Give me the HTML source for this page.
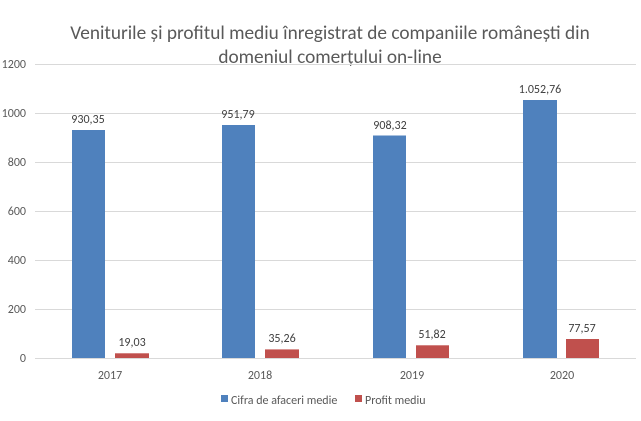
<!DOCTYPE html>
<html><head><meta charset="utf-8"><style>body{margin:0;background:#fff}</style></head><body>
<svg width="641" height="416" xmlns="http://www.w3.org/2000/svg" font-family="Calibri, 'Liberation Sans', sans-serif">
<rect width="641" height="416" fill="#fff"/>
<text x="330" y="39" text-anchor="middle" font-size="19.3" fill="#595959">Veniturile și profitul mediu înregistrat de companiile românești din</text>
<text x="330" y="63" text-anchor="middle" font-size="19.3" fill="#595959">domeniul comerțului on-line</text>
<g stroke="#d9d9d9" stroke-width="1">
<line x1="35" x2="636" y1="64.5" y2="64.5"/><line x1="35" x2="636" y1="113.5" y2="113.5"/>
<line x1="35" x2="636" y1="162.5" y2="162.5"/><line x1="35" x2="636" y1="211.5" y2="211.5"/>
<line x1="35" x2="636" y1="260.5" y2="260.5"/><line x1="35" x2="636" y1="309.5" y2="309.5"/>
<line x1="35" x2="636" y1="358.5" y2="358.5"/>
</g>
<g font-size="12" fill="#595959" text-anchor="end">
<text x="26" y="68">1200</text><text x="26" y="117">1000</text><text x="26" y="166">800</text>
<text x="26" y="215">600</text><text x="26" y="264">400</text><text x="26" y="313">200</text><text x="26" y="362">0</text>
</g>
<g fill="#4f81bd">
<rect x="72" y="130" width="33" height="228"/>
<rect x="222" y="125" width="33" height="233"/>
<rect x="373" y="135.5" width="33" height="222.5"/>
<rect x="523" y="100" width="34" height="258"/>
</g>
<g fill="#c0504d">
<rect x="115" y="353.3" width="34" height="4.7"/>
<rect x="265" y="349.4" width="34" height="8.6"/>
<rect x="416" y="345.3" width="33" height="12.7"/>
<rect x="566" y="339" width="33" height="19"/>
</g>
<g font-size="12" fill="#404040" text-anchor="middle">
<text x="88" y="123">930,35</text><text x="238" y="118">951,79</text>
<text x="390" y="129">908,32</text><text x="540" y="93">1.052,76</text>
<text x="132" y="346">19,03</text><text x="282" y="342">35,26</text>
<text x="432" y="338">51,82</text><text x="582" y="332">77,57</text>
</g>
<g font-size="12" fill="#595959" text-anchor="middle">
<text x="110" y="379">2017</text><text x="260" y="379">2018</text>
<text x="412" y="379">2019</text><text x="562" y="379">2020</text>
</g>
<rect x="221" y="395" width="7" height="7" fill="#4f81bd"/>
<text x="231" y="404" font-size="12" fill="#595959">Cifra de afaceri medie</text>
<rect x="355" y="395" width="7" height="7" fill="#c0504d"/>
<text x="365" y="404" font-size="12" fill="#595959">Profit mediu</text>
</svg>
</body></html>
